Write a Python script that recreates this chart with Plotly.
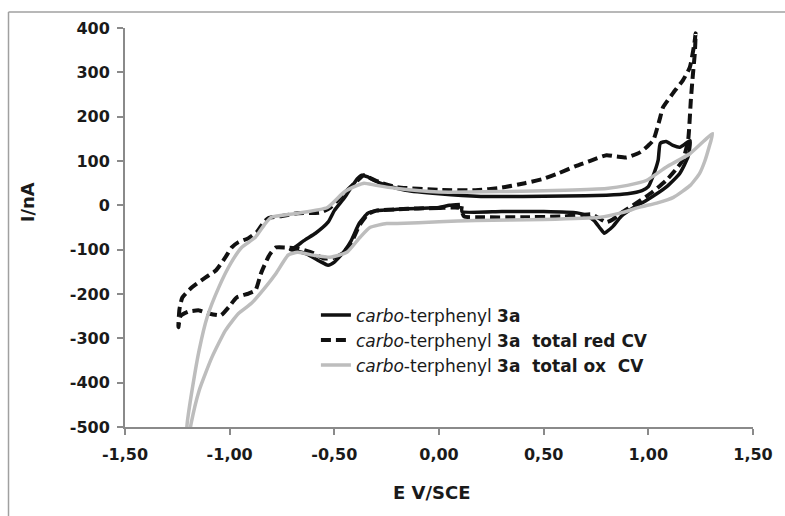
import plotly.graph_objects as go

# Cyclic voltammograms of carbo-terphenyl 3a (potential in V vs SCE, current in nA)
e_3a = [0.10, 0.05, 0.00, -0.10, -0.20, -0.30, -0.34, -0.38, -0.42, -0.45, -0.50, -0.53,
        -0.57, -0.63, -0.68, -0.71, -0.69, -0.64, -0.59, -0.53, -0.50, -0.45, -0.42, -0.39,
        -0.37, -0.34, -0.31, -0.25, -0.16, 0.00, 0.20, 0.40, 0.60, 0.80, 0.90, 0.97,
        1.00, 1.02, 1.047, 1.057, 1.085, 1.118, 1.15, 1.18, 1.20, 1.19, 1.15, 1.085,
        0.99, 0.93, 0.87, 0.83, 0.80, 0.79, 0.77, 0.74, 0.70, 0.66, 0.50, 0.30,
        0.11, 0.11]
i_3a = [2, 0, -5, -7, -9, -12, -18, -40, -80, -102, -128, -135,
        -126, -110, -103, -100, -95, -78, -63, -38, -12, 18, 40, 60,
        68, 64, 56, 45, 34, 26, 20, 20, 21, 23, 26, 33,
        42, 63, 102, 140, 144, 135, 131, 140, 146, 110, 72, 41,
        11, -5, -25, -48, -60, -63, -52, -34, -22, -17, -14, -14,
        -14, -2]

e_red = [0.10, 0.00, -0.10, -0.20, -0.30, -0.34, -0.38, -0.42, -0.46, -0.50, -0.55, -0.60,
         -0.675, -0.736, -0.778, -0.80, -0.816, -0.85, -0.877, -0.91, -0.967, -1.005, -1.042,
         -1.10, -1.146, -1.20, -1.235, -1.245, -1.24, -1.226, -1.18, -1.113, -1.066, -1.02,
         -0.99, -0.958, -0.91, -0.87, -0.84, -0.816, -0.75, -0.675, -0.566, -0.519, -0.453,
         -0.39, -0.36, -0.33, -0.283, -0.20, 0.00, 0.175, 0.30, 0.41, 0.50, 0.57, 0.65,
         0.726, 0.80, 0.85, 0.896, 0.962, 1.00, 1.024, 1.057, 1.07, 1.118, 1.165, 1.198,
         1.22, 1.226, 1.222, 1.212, 1.203, 1.19, 1.165, 1.13, 1.085, 1.02, 0.962, 0.90,
         0.868, 0.83, 0.80, 0.76, 0.726, 0.68, 0.60, 0.40, 0.20, 0.12, 0.10]
i_red = [-6, -6, -7, -9, -12, -20, -45, -85, -108, -118, -120, -108,
         -97, -95, -95, -105, -117, -153, -192, -199, -208, -230, -248,
         -244, -237, -240, -250, -275, -235, -208, -185, -162, -147, -117,
         -95, -83, -74, -60, -40, -29, -24, -18, -16, -5, 27,
         56, 68, 62, 52, 41, 35, 34, 40, 50, 60, 72, 88,
         101, 113, 110, 108, 120, 135, 147, 199, 221, 253, 282, 311,
         365, 388, 343, 290, 237, 147, 102, 80, 56, 30, 11, -8,
         -18, -32, -38, -28, -20, -22, -25, -27, -27, -25, -6]

e_ox = [-0.20, -0.25, -0.33, -0.377, -0.44, -0.52, -0.594, -0.675, -0.72, -0.778, -0.83,
        -0.896, -0.958, -1.02, -1.085, -1.146, -1.184, -1.20, -1.215, -1.21, -1.203, -1.18,
        -1.146, -1.108, -1.052, -0.995, -0.943, -0.877, -0.83, -0.80, -0.675, -0.533, -0.453,
        -0.39, -0.358, -0.30, -0.20, 0.00, 0.30, 0.60, 0.80, 0.90, 0.99, 1.085, 1.20,
        1.27, 1.307, 1.29, 1.27, 1.245, 1.20, 1.12, 1.04, 0.96, 0.87, 0.77, 0.50,
        0.175, 0.00, -0.20]
i_ox = [-41, -41, -50, -72, -106, -117, -113, -106, -112, -153, -185,
        -221, -244, -282, -343, -418, -492, -540, -590, -540, -492, -418,
        -327, -253, -185, -131, -95, -72, -41, -27, -18, -5, 30,
        45, 50, 45, 38, 30, 31, 34, 38, 45, 56, 86, 117,
        147, 162, 131, 100, 72, 45, 18, 5, -4, -17, -27, -32,
        -34, -37, -41]

x_ticks = [-1.5, -1.0, -0.5, 0.0, 0.5, 1.0, 1.5]
x_tick_labels = ["-1,50", "-1,00", "-0,50", "0,00", "0,50", "1,00", "1,50"]
y_ticks = [-500, -400, -300, -200, -100, 0, 100, 200, 300, 400]
y_tick_labels = ["-500", "-400", "-300", "-200", "-100", "0", "100", "200", "300", "400"]

names = [
    "<i>carbo</i>-terphenyl <b>3a</b>",
    "<i>carbo</i>-terphenyl <b>3a\u00a0\u00a0total red CV</b>",
    "<i>carbo</i>-terphenyl <b>3a\u00a0\u00a0total ox\u00a0\u00a0CV</b>",
]

FONT = "DejaVu Sans"
AXIS_GREY = "#8a8a8a"
TEXT = "#1a1a1a"


def bold(labels):
    return [f"<b>{t}</b>" for t in labels]


fig = go.Figure()
fig.add_trace(go.Scatter(x=e_3a, y=i_3a, mode="lines", name=names[0],
                         line=dict(color="#111111", width=3.5, shape="spline", smoothing=0.5)))
fig.add_trace(go.Scatter(x=e_red, y=i_red, mode="lines", name=names[1],
                         line=dict(color="#111111", width=4, dash="10px,5px",
                                   shape="spline", smoothing=0.5)))
fig.add_trace(go.Scatter(x=e_ox, y=i_ox, mode="lines", name=names[2],
                         line=dict(color="#bdbdbd", width=3.5, shape="spline", smoothing=0.5)))

fig.update_layout(
    width=785, height=516,
    margin=dict(l=125, r=24, t=28, b=89),
    paper_bgcolor="white", plot_bgcolor="white",
    font=dict(family=FONT, color=TEXT),
    showlegend=True,
    legend=dict(x=0.304, y=0.325, xanchor="left", yanchor="top",
                bgcolor="rgba(0,0,0,0)", font=dict(family=FONT, size=17, color=TEXT),
                tracegroupgap=0),
    xaxis=dict(range=[-1.5, 1.5], tickvals=x_ticks, ticktext=bold(x_tick_labels),
               showgrid=False, zeroline=False, showline=True, linecolor=AXIS_GREY, linewidth=2,
               ticks="outside", ticklen=6, tickwidth=1.5, tickcolor=AXIS_GREY,
               ticklabelstandoff=6,
               tickfont=dict(family=FONT, size=16, color=TEXT)),
    yaxis=dict(range=[-500, 400], tickvals=y_ticks, ticktext=bold(y_tick_labels),
               showgrid=False, zeroline=False, showline=True, linecolor=AXIS_GREY, linewidth=2,
               ticks="outside", ticklen=6, tickwidth=1.5, tickcolor=AXIS_GREY,
               ticklabelstandoff=4,
               tickfont=dict(family=FONT, size=16, color=TEXT)),
    annotations=[
        dict(text="<b>E V/SCE</b>", xref="paper", yref="paper", x=0.489, y=-0.163,
             xanchor="center", yanchor="middle", showarrow=False,
             font=dict(family=FONT, size=18, color=TEXT)),
        dict(text="<b>I/nA</b>", xref="paper", yref="paper", x=-0.154, y=0.564,
             xanchor="center", yanchor="middle", showarrow=False, textangle=-90,
             font=dict(family=FONT, size=18, color=TEXT)),
    ],
    shapes=[
        dict(type="line", xref="paper", yref="paper", x0=-0.1855, x1=1.1, y0=1.04, y1=1.04,
             line=dict(color="#a0a0a0", width=1.5)),
        dict(type="line", xref="paper", yref="paper", x0=-0.1855, x1=-0.1855, y0=1.04, y1=-0.3,
             line=dict(color="#a0a0a0", width=1.5)),
    ],
)

fig.write_html("out.html")
